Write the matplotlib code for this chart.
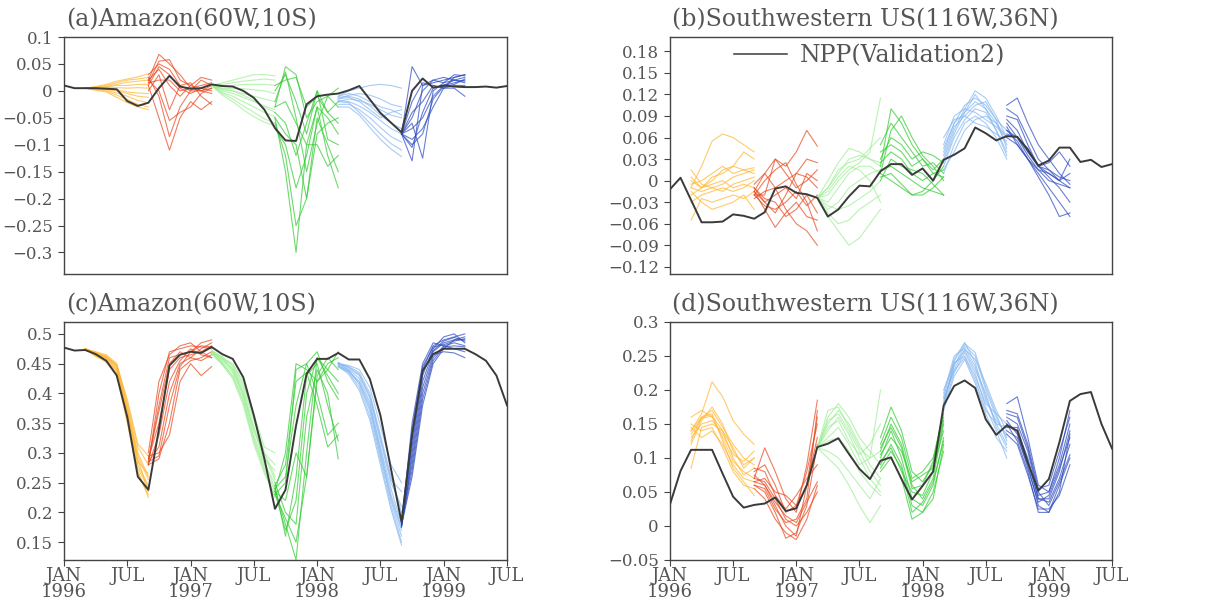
import numpy as np
import matplotlib
matplotlib.use('Agg')
import matplotlib.pyplot as plt
from matplotlib.ticker import FixedLocator, FuncFormatter

# ---------------- data ----------------
MONTHS = list(range(43))  # Jan 1996 .. Jul 1999
XTICK_POS = [0, 6, 12, 18, 24, 30, 36, 42]
XTICK_LABELS = ["JAN\n1996", "JUL", "JAN\n1997", "JUL", "JAN\n1998", "JUL", "JAN\n1999", "JUL"]
GROUP_START = [2, 8, 14, 20, 26, 32]
GROUP_COLORS = ["#FFB52E", "#E8461C", "#9CEE94", "#2FCB2F", "#84B6F0", "#2A48BE"]

TITLES = ["(a)Amazon(60W,10S)", "(b)Southwestern US(116W,36N)",
          "(c)Amazon(60W,10S)", "(d)Southwestern US(116W,36N)"]
LEGEND_LABEL = "NPP(Validation2)"

NPP_A = [0.010, 0.005, 0.005, 0.005, 0.004, 0.003, -0.019, -0.028, -0.022, 0.005,
         0.028, 0.008, 0.004, 0.005, 0.012, 0.009, 0.008, 0.000, -0.013, -0.035,
         -0.069, -0.092, -0.093, -0.025, -0.010, -0.007, -0.005, 0.001, 0.009, -0.016,
         -0.041, -0.059, -0.077, 0.000, 0.023, 0.006, 0.010, 0.008, 0.007, 0.007,
         0.008, 0.006, 0.009]
NPP_B = [-0.012, 0.004, -0.027, -0.058, -0.058, -0.057, -0.047, -0.049, -0.053, -0.044,
         -0.011, -0.008, -0.017, -0.019, -0.024, -0.050, -0.040, -0.022, -0.007, -0.008,
         0.013, 0.023, 0.023, 0.008, 0.017, 0.000, 0.029, 0.036, 0.045, 0.074,
         0.066, 0.056, 0.062, 0.061, 0.043, 0.021, 0.028, 0.046, 0.046, 0.026,
         0.029, 0.019, 0.023]
NPP_C = [0.477, 0.472, 0.473, 0.466, 0.455, 0.430, 0.360, 0.260, 0.238, 0.340,
         0.447, 0.465, 0.470, 0.468, 0.478, 0.466, 0.458, 0.427, 0.363, 0.290,
         0.206, 0.238, 0.346, 0.433, 0.458, 0.458, 0.468, 0.457, 0.457, 0.424,
         0.363, 0.273, 0.184, 0.330, 0.438, 0.466, 0.475, 0.475, 0.475, 0.466,
         0.455, 0.430, 0.380]
NPP_D = [0.032, 0.081, 0.112, 0.112, 0.112, 0.077, 0.043, 0.027, 0.031, 0.033,
         0.042, 0.022, 0.026, 0.060, 0.116, 0.121, 0.129, 0.106, 0.084, 0.069,
         0.096, 0.101, 0.069, 0.039, 0.059, 0.080, 0.177, 0.206, 0.214, 0.203,
         0.157, 0.134, 0.148, 0.140, 0.093, 0.052, 0.069, 0.123, 0.184, 0.194,
         0.197, 0.150, 0.114]

# ---- panel (a) forecast members (7 monthly values from each start month) ----
A_ORANGE = [[0.005, 0.008, 0.012, 0.018, 0.022, 0.026, 0.032],
            [0.005, 0.007, 0.010, 0.015, 0.020, 0.022, 0.025],
            [0.005, 0.006, 0.008, 0.012, 0.016, 0.018, 0.020],
            [0.005, 0.005, 0.007, 0.010, 0.010, 0.012, 0.012],
            [0.005, 0.004, 0.006, 0.006, 0.005, 0.006, 0.005],
            [0.005, 0.003, 0.004, 0.002, -0.002, -0.004, -0.005],
            [0.005, 0.004, 0.003, 0.000, -0.005, -0.010, -0.012],
            [0.005, 0.002, 0.002, -0.004, -0.010, -0.018, -0.022],
            [0.005, 0.003, 0.000, -0.008, -0.016, -0.025, -0.030],
            [0.005, 0.001, -0.002, -0.012, -0.022, -0.030, -0.035]]
A_RED = [[0.020, 0.068, 0.050, 0.030, 0.005, 0.010, 0.015],
         [0.015, 0.055, 0.058, 0.020, 0.010, 0.000, 0.005],
         [0.030, 0.050, 0.040, 0.010, 0.000, 0.020, 0.010],
         [0.010, 0.045, 0.030, 0.005, -0.005, 0.005, 0.000],
         [0.020, 0.040, 0.010, -0.010, 0.010, 0.025, 0.020],
         [0.000, 0.030, -0.035, 0.010, 0.015, -0.010, -0.025],
         [0.025, -0.010, -0.085, -0.030, 0.000, 0.000, 0.010],
         [0.010, -0.050, -0.110, -0.050, -0.020, -0.035, -0.020],
         [0.020, 0.000, -0.055, -0.040, -0.030, -0.005, 0.005],
         [0.015, 0.020, 0.020, 0.000, 0.005, 0.000, -0.005]]
A_LGREEN = [[0.010, 0.015, 0.020, 0.025, 0.030, 0.030, 0.028],
            [0.010, 0.012, 0.015, 0.018, 0.020, 0.022, 0.020],
            [0.010, 0.008, 0.010, 0.012, 0.012, 0.012, 0.010],
            [0.010, 0.005, 0.004, 0.004, 0.002, 0.000, -0.005],
            [0.010, 0.002, 0.000, -0.005, -0.010, -0.015, -0.020],
            [0.010, 0.000, -0.005, -0.012, -0.020, -0.028, -0.035],
            [0.010, -0.003, -0.010, -0.020, -0.030, -0.040, -0.048],
            [0.010, -0.005, -0.015, -0.028, -0.040, -0.052, -0.060],
            [0.010, 0.004, 0.000, -0.008, -0.018, -0.030, -0.040],
            [0.010, -0.008, -0.020, -0.035, -0.048, -0.058, -0.065]]
A_GREEN = [[-0.030, 0.045, 0.030, -0.050, -0.020, -0.010, -0.030],
           [-0.050, -0.150, -0.300, -0.100, -0.030, -0.050, -0.080],
           [-0.060, -0.120, -0.250, -0.200, -0.050, -0.100, -0.150],
           [0.000, 0.030, -0.020, -0.080, 0.000, -0.040, -0.060],
           [-0.070, -0.100, -0.180, -0.120, -0.030, -0.120, -0.180],
           [-0.020, 0.035, -0.050, -0.150, -0.060, -0.010, 0.005],
           [-0.040, -0.060, -0.120, -0.060, 0.000, -0.090, -0.100],
           [0.010, 0.020, 0.025, -0.030, -0.010, -0.040, -0.020],
           [-0.050, -0.080, -0.100, -0.200, -0.080, -0.060, -0.050],
           [-0.030, -0.020, -0.060, -0.100, -0.100, -0.140, -0.120]]
A_LBLUE = [[-0.010, 0.000, 0.005, 0.010, 0.012, 0.010, 0.005],
           [-0.015, -0.008, -0.005, -0.008, -0.015, -0.025, -0.030],
           [-0.020, -0.015, -0.018, -0.025, -0.035, -0.045, -0.050],
           [-0.012, -0.010, -0.015, -0.028, -0.045, -0.060, -0.070],
           [-0.018, -0.020, -0.028, -0.040, -0.055, -0.070, -0.080],
           [-0.025, -0.025, -0.035, -0.050, -0.068, -0.085, -0.095],
           [-0.020, -0.022, -0.040, -0.060, -0.080, -0.098, -0.110],
           [-0.030, -0.030, -0.045, -0.068, -0.090, -0.108, -0.122],
           [-0.015, -0.012, -0.020, -0.035, -0.050, -0.040, -0.035],
           [-0.010, -0.005, -0.010, -0.020, -0.030, -0.035, -0.045]]
A_DBLUE = [[-0.080, 0.045, 0.010, 0.015, 0.020, 0.025, 0.030],
           [-0.080, -0.130, 0.010, 0.020, 0.015, 0.030, 0.028],
           [-0.080, -0.105, -0.040, 0.005, 0.010, 0.015, 0.020],
           [-0.080, -0.060, -0.125, 0.000, 0.015, 0.020, 0.025],
           [-0.080, -0.040, -0.020, 0.010, 0.005, 0.010, 0.010],
           [-0.080, -0.070, -0.050, -0.010, 0.010, 0.020, 0.015],
           [-0.080, -0.020, 0.015, 0.010, 0.005, 0.005, -0.010],
           [-0.080, -0.090, -0.070, -0.030, 0.005, 0.025, 0.030],
           [-0.080, -0.050, 0.000, 0.020, 0.025, 0.020, 0.018],
           [-0.080, -0.100, -0.080, -0.015, 0.008, 0.012, 0.022]]

# ---- panel (b) ----
B_ORANGE = [[-0.010, 0.020, 0.055, 0.065, 0.060, 0.050, 0.040],
            [0.000, -0.010, 0.005, 0.010, 0.020, 0.040, 0.030],
            [-0.020, -0.010, 0.000, 0.015, 0.020, 0.015, 0.018],
            [-0.010, -0.015, -0.010, -0.005, 0.005, 0.010, 0.015],
            [0.015, -0.005, -0.010, -0.015, -0.005, 0.000, 0.005],
            [-0.030, -0.020, -0.015, -0.010, -0.015, -0.010, 0.000],
            [-0.055, -0.025, -0.030, -0.025, -0.020, -0.025, -0.015],
            [0.005, -0.010, -0.005, 0.000, -0.010, -0.005, -0.010],
            [-0.015, -0.030, -0.040, -0.035, -0.030, -0.020, -0.040],
            [-0.005, 0.000, 0.010, 0.020, 0.010, 0.015, 0.010]]
B_RED = [[-0.015, 0.010, 0.030, 0.020, 0.040, 0.070, 0.048],
         [-0.010, -0.030, -0.045, -0.020, 0.010, 0.030, 0.025],
         [-0.020, -0.020, 0.030, 0.010, -0.010, 0.000, 0.015],
         [-0.005, 0.010, -0.010, -0.040, -0.060, -0.070, -0.090],
         [-0.015, -0.040, -0.065, -0.045, -0.030, -0.050, -0.055],
         [-0.025, -0.015, -0.010, 0.000, 0.010, 0.005, -0.010],
         [-0.010, -0.025, -0.030, -0.050, -0.040, -0.020, -0.045],
         [-0.020, 0.000, 0.015, 0.025, -0.005, -0.030, -0.070],
         [-0.015, -0.030, -0.020, -0.010, -0.025, 0.010, 0.000],
         [-0.020, -0.035, -0.040, -0.030, -0.015, -0.035, -0.020]]
B_LGREEN = [[-0.024, 0.000, 0.025, 0.045, 0.040, 0.030, 0.020],
            [-0.024, -0.010, 0.010, 0.030, 0.035, 0.030, 0.025],
            [-0.024, -0.030, -0.010, 0.010, 0.020, 0.020, 0.010],
            [-0.024, -0.040, -0.030, -0.010, 0.000, 0.010, 0.015],
            [-0.024, -0.050, -0.070, -0.090, -0.080, -0.060, -0.040],
            [-0.024, -0.020, 0.000, 0.015, 0.025, 0.040, 0.115],
            [-0.024, -0.045, -0.060, -0.055, -0.040, -0.030, -0.020],
            [-0.024, -0.015, 0.005, 0.020, 0.015, 0.000, -0.030],
            [-0.024, -0.035, -0.040, -0.035, -0.025, -0.015, 0.000],
            [-0.024, -0.010, 0.015, 0.025, 0.030, 0.045, 0.060]]
B_GREEN = [[0.020, 0.100, 0.080, 0.050, 0.030, 0.010, 0.005],
           [0.010, 0.070, 0.090, 0.060, 0.035, 0.020, 0.000],
           [0.030, 0.060, 0.050, 0.030, 0.040, 0.035, 0.025],
           [0.000, 0.030, 0.020, 0.015, 0.010, -0.005, -0.020],
           [0.015, 0.020, 0.010, 0.000, -0.010, -0.015, -0.020],
           [0.050, 0.080, 0.060, 0.040, 0.020, 0.025, 0.010],
           [0.005, 0.010, -0.005, -0.020, -0.015, 0.000, 0.020],
           [0.025, 0.040, 0.030, 0.010, 0.000, 0.010, 0.015],
           [0.010, 0.000, -0.010, -0.020, -0.020, -0.010, 0.005],
           [0.040, 0.050, 0.040, 0.020, 0.030, 0.015, 0.030]]
B_LBLUE = [[0.030, 0.070, 0.100, 0.125, 0.115, 0.090, 0.060],
           [0.040, 0.080, 0.095, 0.110, 0.100, 0.080, 0.050],
           [0.020, 0.060, 0.085, 0.100, 0.095, 0.070, 0.040],
           [0.050, 0.090, 0.100, 0.095, 0.085, 0.075, 0.060],
           [0.010, 0.050, 0.080, 0.090, 0.080, 0.060, 0.030],
           [0.035, 0.075, 0.090, 0.105, 0.110, 0.085, 0.045],
           [0.060, 0.085, 0.090, 0.080, 0.075, 0.065, 0.055],
           [0.025, 0.065, 0.095, 0.120, 0.100, 0.070, 0.035],
           [0.015, 0.040, 0.070, 0.085, 0.090, 0.080, 0.060],
           [0.045, 0.080, 0.105, 0.115, 0.105, 0.085, 0.070]]
B_DBLUE = [[0.105, 0.115, 0.080, 0.050, 0.030, 0.010, -0.005],
           [0.080, 0.060, 0.040, 0.020, 0.010, 0.000, -0.010],
           [0.070, 0.055, 0.030, 0.010, -0.010, -0.030, -0.050],
           [0.065, 0.060, 0.045, 0.020, 0.015, 0.005, 0.000],
           [0.090, 0.085, 0.050, 0.020, 0.005, -0.010, -0.030],
           [0.075, 0.050, 0.030, 0.015, 0.010, 0.000, 0.010],
           [0.060, 0.050, 0.030, 0.005, -0.020, -0.050, -0.045],
           [0.085, 0.070, 0.040, 0.020, 0.025, 0.040, 0.020],
           [0.070, 0.060, 0.035, 0.015, 0.000, -0.005, -0.010],
           [0.100, 0.090, 0.060, 0.030, 0.015, 0.000, 0.030]]

# ---- panel (c) ----
C_ORANGE = [[0.475, 0.465, 0.460, 0.445, 0.370, 0.290, 0.235],
            [0.475, 0.468, 0.462, 0.448, 0.380, 0.300, 0.260],
            [0.475, 0.462, 0.455, 0.435, 0.355, 0.270, 0.225],
            [0.475, 0.470, 0.465, 0.450, 0.385, 0.310, 0.280],
            [0.475, 0.466, 0.458, 0.440, 0.365, 0.280, 0.245],
            [0.475, 0.468, 0.463, 0.448, 0.390, 0.315, 0.295],
            [0.475, 0.464, 0.452, 0.432, 0.350, 0.265, 0.230],
            [0.475, 0.467, 0.460, 0.442, 0.375, 0.295, 0.255],
            [0.475, 0.469, 0.461, 0.446, 0.372, 0.285, 0.265],
            [0.475, 0.463, 0.456, 0.438, 0.360, 0.275, 0.240]]
C_RED = [[0.280, 0.400, 0.470, 0.475, 0.480, 0.478, 0.475],
         [0.285, 0.380, 0.460, 0.465, 0.470, 0.485, 0.490],
         [0.290, 0.350, 0.440, 0.460, 0.465, 0.470, 0.480],
         [0.285, 0.310, 0.400, 0.450, 0.460, 0.455, 0.465],
         [0.280, 0.290, 0.350, 0.440, 0.455, 0.460, 0.470],
         [0.295, 0.300, 0.330, 0.420, 0.450, 0.430, 0.445],
         [0.280, 0.330, 0.420, 0.455, 0.475, 0.465, 0.460],
         [0.290, 0.370, 0.450, 0.470, 0.460, 0.475, 0.485],
         [0.285, 0.295, 0.380, 0.445, 0.470, 0.480, 0.478],
         [0.300, 0.420, 0.465, 0.480, 0.485, 0.470, 0.460]]
C_LGREEN = [[0.470, 0.460, 0.450, 0.420, 0.360, 0.300, 0.260],
            [0.468, 0.455, 0.440, 0.400, 0.340, 0.285, 0.240],
            [0.470, 0.450, 0.430, 0.385, 0.320, 0.270, 0.225],
            [0.472, 0.462, 0.445, 0.410, 0.355, 0.300, 0.280],
            [0.468, 0.452, 0.435, 0.395, 0.330, 0.280, 0.250],
            [0.470, 0.458, 0.448, 0.415, 0.365, 0.310, 0.300],
            [0.466, 0.448, 0.425, 0.380, 0.315, 0.265, 0.230],
            [0.470, 0.456, 0.442, 0.405, 0.345, 0.290, 0.270],
            [0.472, 0.460, 0.438, 0.398, 0.338, 0.295, 0.255],
            [0.468, 0.450, 0.428, 0.390, 0.325, 0.275, 0.235]]
C_GREEN = [[0.235, 0.300, 0.450, 0.440, 0.420, 0.440, 0.470],
           [0.240, 0.180, 0.120, 0.300, 0.460, 0.430, 0.400],
           [0.230, 0.250, 0.440, 0.450, 0.400, 0.330, 0.350],
           [0.245, 0.160, 0.260, 0.430, 0.450, 0.380, 0.320],
           [0.235, 0.220, 0.300, 0.260, 0.430, 0.460, 0.440],
           [0.250, 0.200, 0.180, 0.360, 0.440, 0.400, 0.290],
           [0.240, 0.260, 0.380, 0.450, 0.470, 0.420, 0.390],
           [0.230, 0.190, 0.150, 0.260, 0.420, 0.450, 0.460],
           [0.245, 0.280, 0.420, 0.435, 0.380, 0.310, 0.330],
           [0.235, 0.170, 0.220, 0.400, 0.460, 0.440, 0.420]]
C_LBLUE = [[0.450, 0.445, 0.435, 0.400, 0.330, 0.260, 0.200],
           [0.448, 0.440, 0.425, 0.385, 0.310, 0.240, 0.180],
           [0.452, 0.438, 0.415, 0.370, 0.295, 0.220, 0.160],
           [0.446, 0.432, 0.405, 0.355, 0.280, 0.205, 0.145],
           [0.450, 0.447, 0.440, 0.410, 0.345, 0.280, 0.250],
           [0.444, 0.436, 0.420, 0.380, 0.305, 0.230, 0.175],
           [0.452, 0.442, 0.430, 0.392, 0.320, 0.250, 0.210],
           [0.448, 0.435, 0.410, 0.362, 0.288, 0.212, 0.150],
           [0.450, 0.444, 0.432, 0.395, 0.325, 0.255, 0.235],
           [0.446, 0.438, 0.418, 0.375, 0.300, 0.225, 0.170]]
C_DBLUE = [[0.180, 0.330, 0.440, 0.480, 0.490, 0.495, 0.500],
           [0.175, 0.300, 0.420, 0.470, 0.485, 0.490, 0.495],
           [0.185, 0.280, 0.400, 0.460, 0.480, 0.485, 0.480],
           [0.180, 0.350, 0.450, 0.485, 0.480, 0.475, 0.470],
           [0.178, 0.260, 0.380, 0.450, 0.475, 0.490, 0.490],
           [0.182, 0.310, 0.430, 0.475, 0.495, 0.500, 0.485],
           [0.176, 0.290, 0.410, 0.465, 0.470, 0.468, 0.460],
           [0.184, 0.340, 0.445, 0.478, 0.482, 0.488, 0.492],
           [0.180, 0.270, 0.390, 0.455, 0.478, 0.480, 0.478],
           [0.178, 0.320, 0.435, 0.472, 0.488, 0.494, 0.488]]

# ---- panel (d) ----
D_ORANGE = [[0.140, 0.165, 0.212, 0.190, 0.155, 0.135, 0.120],
            [0.120, 0.155, 0.175, 0.150, 0.110, 0.090, 0.100],
            [0.160, 0.170, 0.160, 0.130, 0.095, 0.080, 0.070],
            [0.085, 0.145, 0.150, 0.140, 0.100, 0.075, 0.085],
            [0.140, 0.160, 0.165, 0.125, 0.085, 0.065, 0.045],
            [0.130, 0.150, 0.155, 0.135, 0.105, 0.095, 0.110],
            [0.150, 0.140, 0.145, 0.115, 0.080, 0.060, 0.055],
            [0.125, 0.160, 0.170, 0.145, 0.120, 0.100, 0.090],
            [0.145, 0.130, 0.140, 0.120, 0.090, 0.070, 0.065],
            [0.135, 0.158, 0.162, 0.140, 0.115, 0.085, 0.100]]
D_RED = [[0.070, 0.115, 0.080, 0.040, 0.020, 0.090, 0.185],
         [0.065, 0.060, 0.030, 0.000, -0.015, 0.060, 0.160],
         [0.080, 0.090, 0.060, 0.020, 0.030, 0.080, 0.150],
         [0.060, 0.050, 0.020, -0.018, -0.010, 0.030, 0.120],
         [0.070, 0.065, 0.040, 0.010, 0.000, 0.020, 0.050],
         [0.085, 0.080, 0.045, 0.025, 0.045, 0.070, 0.090],
         [0.055, 0.040, 0.010, -0.010, -0.020, 0.010, 0.060],
         [0.065, 0.070, 0.050, 0.045, 0.030, 0.060, 0.130],
         [0.060, 0.055, 0.025, 0.005, 0.010, 0.040, 0.170],
         [0.075, 0.060, 0.035, 0.015, 0.005, 0.035, 0.065]]
D_LGREEN = [[0.115, 0.160, 0.180, 0.160, 0.130, 0.110, 0.090],
            [0.115, 0.150, 0.170, 0.150, 0.120, 0.090, 0.070],
            [0.115, 0.140, 0.160, 0.135, 0.100, 0.070, 0.050],
            [0.115, 0.100, 0.085, 0.060, 0.030, 0.005, 0.030],
            [0.115, 0.170, 0.175, 0.145, 0.115, 0.100, 0.110],
            [0.115, 0.130, 0.145, 0.120, 0.090, 0.100, 0.200],
            [0.115, 0.155, 0.165, 0.140, 0.110, 0.080, 0.060],
            [0.115, 0.125, 0.130, 0.110, 0.080, 0.060, 0.045],
            [0.115, 0.145, 0.155, 0.125, 0.105, 0.120, 0.150],
            [0.115, 0.110, 0.100, 0.080, 0.060, 0.040, 0.070]]
D_GREEN = [[0.130, 0.175, 0.140, 0.080, 0.065, 0.090, 0.160],
           [0.110, 0.150, 0.120, 0.060, 0.040, 0.070, 0.150],
           [0.100, 0.140, 0.100, 0.040, 0.030, 0.060, 0.130],
           [0.090, 0.120, 0.090, 0.030, 0.020, 0.050, 0.110],
           [0.120, 0.160, 0.130, 0.070, 0.080, 0.100, 0.165],
           [0.080, 0.100, 0.070, 0.010, 0.020, 0.040, 0.120],
           [0.105, 0.130, 0.110, 0.065, 0.075, 0.085, 0.140],
           [0.095, 0.115, 0.080, 0.050, 0.045, 0.080, 0.155],
           [0.115, 0.145, 0.115, 0.055, 0.060, 0.095, 0.170],
           [0.085, 0.110, 0.085, 0.020, 0.035, 0.065, 0.125]]
D_LBLUE = [[0.180, 0.235, 0.265, 0.250, 0.200, 0.160, 0.130],
           [0.190, 0.245, 0.270, 0.240, 0.190, 0.150, 0.120],
           [0.175, 0.225, 0.255, 0.225, 0.175, 0.140, 0.100],
           [0.200, 0.240, 0.250, 0.220, 0.180, 0.165, 0.150],
           [0.185, 0.230, 0.260, 0.245, 0.210, 0.170, 0.140],
           [0.170, 0.220, 0.245, 0.210, 0.165, 0.130, 0.110],
           [0.195, 0.250, 0.262, 0.235, 0.185, 0.155, 0.135],
           [0.180, 0.238, 0.258, 0.230, 0.195, 0.145, 0.115],
           [0.188, 0.228, 0.248, 0.215, 0.170, 0.150, 0.145],
           [0.178, 0.242, 0.268, 0.255, 0.205, 0.165, 0.125]]
D_DBLUE = [[0.180, 0.190, 0.130, 0.060, 0.050, 0.100, 0.170],
           [0.150, 0.140, 0.100, 0.040, 0.040, 0.080, 0.140],
           [0.140, 0.130, 0.090, 0.030, 0.020, 0.060, 0.100],
           [0.160, 0.150, 0.110, 0.045, 0.050, 0.090, 0.150],
           [0.135, 0.120, 0.075, 0.025, 0.025, 0.045, 0.090],
           [0.170, 0.165, 0.120, 0.055, 0.060, 0.110, 0.160],
           [0.145, 0.145, 0.095, 0.040, 0.035, 0.070, 0.120],
           [0.155, 0.135, 0.085, 0.035, 0.045, 0.085, 0.130],
           [0.165, 0.160, 0.115, 0.050, 0.030, 0.065, 0.105],
           [0.150, 0.125, 0.080, 0.020, 0.020, 0.050, 0.135]]

Y_LIMS = [(-0.34, 0.10), (-0.13, 0.20), (0.12, 0.52), (-0.05, 0.30)]
Y_TICKS = [[-0.3, -0.25, -0.2, -0.15, -0.1, -0.05, 0, 0.05, 0.1],
           [-0.12, -0.09, -0.06, -0.03, 0, 0.03, 0.06, 0.09, 0.12, 0.15, 0.18],
           [0.15, 0.2, 0.25, 0.3, 0.35, 0.4, 0.45, 0.5],
           [-0.05, 0, 0.05, 0.1, 0.15, 0.2, 0.25, 0.3]]

# ---------------- plotting ----------------
TEXT_COLOR = "#555555"
FONT = "DejaVu Serif"

fig = plt.figure(figsize=(12.22, 6.01), dpi=100)
W, H = 1222.0, 601.0
boxes = [(64, 37, 507, 274), (670, 37, 1112, 274),
         (64, 322, 507, 560), (670, 322, 1112, 560)]

npp_all = [NPP_A, NPP_B, NPP_C, NPP_D]
groups_all = [[A_ORANGE, A_RED, A_LGREEN, A_GREEN, A_LBLUE, A_DBLUE],
              [B_ORANGE, B_RED, B_LGREEN, B_GREEN, B_LBLUE, B_DBLUE],
              [C_ORANGE, C_RED, C_LGREEN, C_GREEN, C_LBLUE, C_DBLUE],
              [D_ORANGE, D_RED, D_LGREEN, D_GREEN, D_LBLUE, D_DBLUE]]


def fmt(v, pos):
    s = "%g" % round(v, 4)
    if s == "-0":
        s = "0"
    return s.replace("-", "\u2212")


for i in range(4):
    x0, y0, x1, y1 = boxes[i]
    ax = fig.add_axes([x0 / W, 1 - y1 / H, (x1 - x0) / W, (y1 - y0) / H])
    for g, members in enumerate(groups_all[i]):
        s = GROUP_START[g]
        xs = MONTHS[s:s + 7]
        for m in members:
            ax.plot(xs, m, color=GROUP_COLORS[g], lw=0.8, alpha=0.7, zorder=2)
    line, = ax.plot(MONTHS, npp_all[i], color="#3a3a3a", lw=1.4, zorder=3)

    ax.set_xlim(0, 42)
    ax.set_ylim(*Y_LIMS[i])
    ax.yaxis.set_major_locator(FixedLocator(Y_TICKS[i]))
    ax.yaxis.set_major_formatter(FuncFormatter(fmt))
    ax.xaxis.set_major_locator(FixedLocator(XTICK_POS))
    if i >= 2:
        ax.set_xticklabels(XTICK_LABELS)
        ax.tick_params(axis="x", length=4, direction="out", color="#444444",
                       labelsize=13, labelcolor=TEXT_COLOR, pad=1)
    else:
        ax.tick_params(axis="x", length=0, labelbottom=False)
    ax.tick_params(axis="y", length=4, direction="out", color="#444444",
                   labelsize=12, labelcolor=TEXT_COLOR, pad=4)
    for lab in ax.get_xticklabels() + ax.get_yticklabels():
        lab.set_fontfamily(FONT)
        lab.set_linespacing(0.85)
    for sp in ax.spines.values():
        sp.set_color("#444444")
        sp.set_linewidth(1.0)
    ax.text(0.004, 1.025, TITLES[i], transform=ax.transAxes, ha="left", va="bottom",
            fontsize=17, color=TEXT_COLOR, fontfamily=FONT)
    if i == 1:
        leg = ax.legend([line], [LEGEND_LABEL], loc="center left",
                        bbox_to_anchor=(0.145, 0.922), frameon=False,
                        prop={"family": FONT, "size": 17}, handlelength=2.25,
                        handletextpad=0.55, borderpad=0.0, borderaxespad=0.0)
        for t in leg.get_texts():
            t.set_color(TEXT_COLOR)
        leg.get_lines()[0].set_linewidth(1.1)

fig.savefig("out.png", dpi=100)
